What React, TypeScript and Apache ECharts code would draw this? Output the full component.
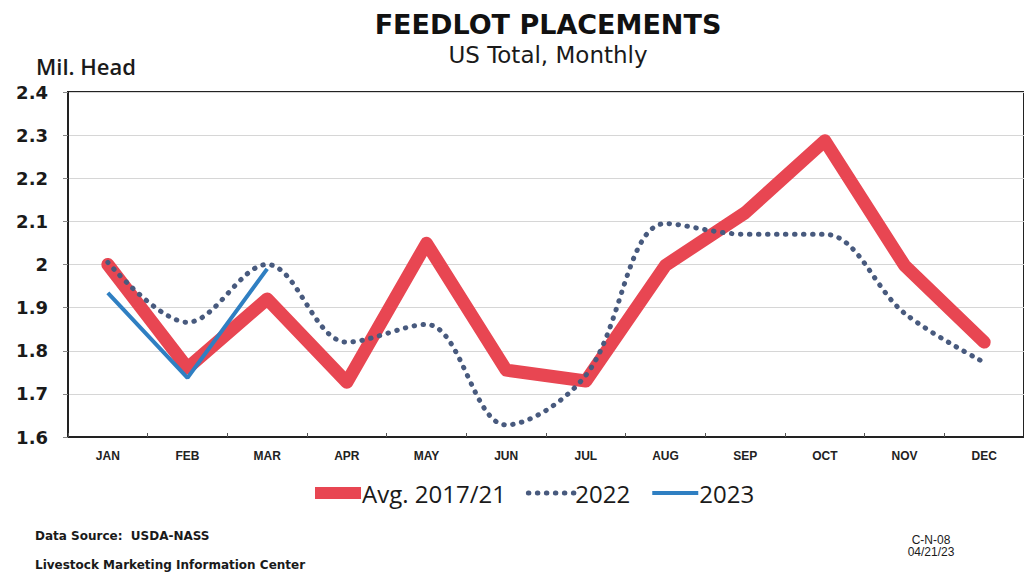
import React, { useEffect, useRef } from "react";
import * as echarts from "echarts";

const months = ["JAN", "FEB", "MAR", "APR", "MAY", "JUN", "JUL", "AUG", "SEP", "OCT", "NOV", "DEC"];
const avg1721 = [2.0, 1.76, 1.92, 1.727, 2.049, 1.755, 1.73, 1.998, 2.12, 2.287, 1.998, 1.82];
const y2022 = [2.005, 1.866, 2.0, 1.82, 1.861, 1.628, 1.743, 2.095, 2.07, 2.07, 1.887, 1.773];
const y2023 = [1.934, 1.737, 1.99];
const yTicks = { min: 1.6, max: 2.4, interval: 0.1 };

export default function App() {
  const ref = useRef<HTMLDivElement>(null);
  useEffect(() => {
    if (!ref.current) return;
    const chart = echarts.init(ref.current, null, { renderer: "svg" });
    const font = "Liberation Sans, Arial, sans-serif";
    chart.setOption({
      animation: false,
      backgroundColor: "#ffffff",
      grid: { left: 68, top: 92, width: 958, height: 345, show: true, borderColor: "#222", borderWidth: 2, backgroundColor: "transparent" },
      title: [
        { text: "FEEDLOT PLACEMENTS", left: 543, top: 6, textAlign: "center", textStyle: { fontFamily: "DejaVu Sans", fontWeight: 900, fontSize: 27, color: "#111" } },
        { text: "US Total, Monthly", left: 543, top: 38, textAlign: "center", textStyle: { fontFamily: "DejaVu Sans", fontWeight: "normal", fontSize: 23, color: "#1a1a1a" } },
      ],
      legend: {
        left: 304,
        top: 476,
        itemWidth: 46,
        itemHeight: 14,
        itemGap: 20,
        itemStyle: { opacity: 0 },
        textStyle: { fontFamily: "Open Sans", fontSize: 24, color: "#1a1a1a", padding: [0, 0, 0, -4] },
        data: [
          { name: "Avg. 2017/21", lineStyle: { width: 12, cap: "butt" } },
          { name: "2022", lineStyle: { width: 5, type: [0.5, 8.5], cap: "round" } },
          { name: "2023", lineStyle: { width: 4 } },
        ],
      },
      xAxis: {
        type: "category",
        data: months,
        boundaryGap: true,
        axisLine: { lineStyle: { color: "#222", width: 2 } },
        axisTick: { show: true, inside: true, length: 4, lineStyle: { color: "#555" } },
        axisLabel: { fontFamily: font, fontWeight: "bold", fontSize: 12, color: "#222", margin: 13 },
        splitLine: { show: false },
      },
      yAxis: {
        type: "value",
        min: yTicks.min,
        max: yTicks.max,
        interval: yTicks.interval,
        axisLine: { show: true, lineStyle: { color: "#222", width: 2 } },
        axisTick: { show: true, length: 5, lineStyle: { color: "#888" } },
        axisLabel: { fontFamily: "DejaVu Sans", fontWeight: "bold", fontSize: 18, color: "#1a1a1a", margin: 20, formatter: (v: number) => String(Math.round(v * 10) / 10) },
        splitLine: { show: true, lineStyle: { color: "#d6d6d6", width: 1 } },
      },
      graphic: [
        { type: "text", left: 36, top: 55, style: { text: "Mil. Head", fontFamily: "Open Sans", fontWeight: 600, fontSize: 22, fill: "#1a1a1a" } },
        { type: "text", left: 35, top: 530, style: { text: "Data Source:  USDA-NASS", fontFamily: "DejaVu Sans", fontWeight: "bold", fontSize: 12, fill: "#1a1a1a" } },
        { type: "text", left: 35, top: 559, style: { text: "Livestock Marketing Information Center", fontFamily: "DejaVu Sans", fontWeight: "bold", fontSize: 12, fill: "#1a1a1a" } },
        { type: "text", x: 931, y: 534, style: { text: "C-N-08", textAlign: "center", fontFamily: font, fontSize: 12, fill: "#1a1a1a" } },
        { type: "text", x: 931, y: 546, style: { text: "04/21/23", textAlign: "center", fontFamily: font, fontSize: 12, fill: "#1a1a1a" } },
      ],
      series: [
        {
          name: "Avg. 2017/21",
          type: "line",
          data: avg1721,
          symbol: "none",
          color: "#e84652",
          lineStyle: { color: "#e84652", width: 13, cap: "round", join: "round" },
          z: 2,
        },
        {
          name: "2022",
          type: "line",
          data: y2022,
          smooth: 0.35,
          symbol: "none",
          color: "#485a7e",
          lineStyle: { color: "#485a7e", width: 5, type: [0.5, 8.5], cap: "round" },
          z: 3,
        },
        {
          name: "2023",
          type: "line",
          data: y2023,
          symbol: "none",
          color: "#2f7fc2",
          lineStyle: { color: "#2f7fc2", width: 4 },
          z: 4,
        },
      ],
    });
    return () => chart.dispose();
  }, []);
  return <div ref={ref} style={{ position: "fixed", left: 0, top: 0, width: 1024, height: 573 }} />;
}
